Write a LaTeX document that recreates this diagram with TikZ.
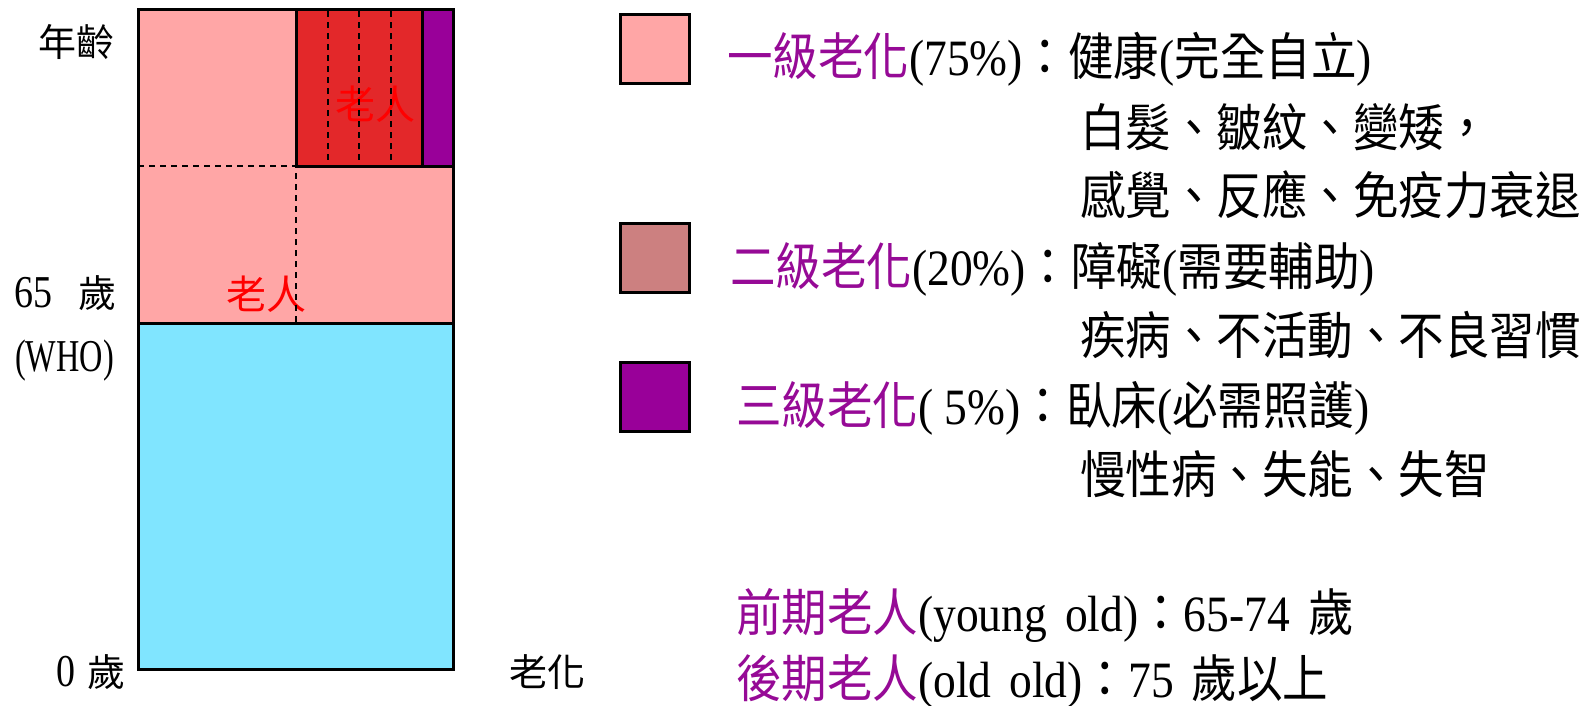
\documentclass[tikz,border=0pt]{standalone}
\usepackage{fontspec}
\setmainfont{Liberation Serif}
\newfontfamily\cjk{Noto Sans CJK TC}
\newcommand\zh[1]{{\cjk #1}}
\newcommand\tall[1]{\scalebox{1}[1.12]{#1}}
\newcommand\gap{\hspace{18pt}}
\definecolor{pinkf}{RGB}{255,166,166}
\definecolor{cyanf}{RGB}{128,229,255}
\definecolor{redf}{RGB}{227,40,42}
\definecolor{purpf}{RGB}{153,0,153}
\definecolor{rosef}{RGB}{204,128,128}
\definecolor{purptxt}{RGB}{150,10,150}
\begin{document}
\begin{tikzpicture}[x=1pt,y=-1pt,
  box/.style={draw=black,line width=3pt},
  dashline/.style={draw=black,line width=1.5pt,dash pattern=on 6pt off 5pt},
  lab/.style={anchor=base west,inner sep=0pt,font=\fontsize{38}{40}\selectfont},
  txt/.style={anchor=base west,inner sep=0pt,font=\fontsize{45.5}{50}\selectfont},
  redlab/.style={anchor=center,inner sep=0pt,text=red,font=\fontsize{40}{42}\selectfont\cjk}]
\useasboundingbox (0,0) rectangle (1595,705);
\fill[white] (0,0) rectangle (1595,705);
% main bar
\draw[box,fill=pinkf] (138,9) rectangle (453,323);
\draw[box,fill=cyanf] (138,323) rectangle (453,669);
\draw[box,fill=redf] (296,9) rectangle (422,166);
\draw[box,fill=purpf] (422,9) rectangle (453,166);
\node[redlab] (old1) at (375,104) {老人};
\node[redlab] (old2) at (266,294) {老人};
\draw[dashline] (138,166) -- (296,166) -- (296,323);
\draw[dashline] (328,11) -- (328,164);
\draw[dashline] (359,11) -- (359,164);
\draw[dashline] (391,11) -- (391,164);
% left labels
\node[lab] (age) at (38,56.4) {\zh{年齡}};
\node[lab] (y65) at (14,307.4) {\scalebox{1}[1.2]{65}\hspace{26pt}\zh{歲}};
\node[lab] (who) at (15,371.4) {\scalebox{0.85}[1.2]{(WHO)}};
\node[lab] (y0) at (56,686.4) {\scalebox{1}[1.2]{0}\hspace{12pt}\zh{歲}};
\node[lab] (aging) at (509,686.4) {\zh{老化}};
% legend boxes
\draw[box,fill=pinkf] (620,14) rectangle (689,83);
\draw[box,fill=rosef] (620,223) rectangle (689,292);
\draw[box,fill=purpf] (620,362) rectangle (689,431);
% legend text
\node[txt] (r1) at (727,75.4) {\tall{\textcolor{purptxt}{\zh{一級老化}}(75\%)\zh{：健康}(\zh{完全自立})}};
\node[txt] (r2) at (1080,146.4) {\tall{\zh{白髮、皺紋、變矮，}}};
\node[txt] (r3) at (1080,214.4) {\tall{\zh{感覺、反應、免疫力衰退}}};
\node[txt] (r4) at (730,285.4) {\tall{\textcolor{purptxt}{\zh{二級老化}}(20\%)\zh{：障礙}(\zh{需要輔助})}};
\node[txt] (r5) at (1080,354.4) {\tall{\zh{疾病、不活動、不良習慣}}};
\node[txt] (r6) at (736,424.4) {\tall{\textcolor{purptxt}{\zh{三級老化}}( 5\%)\zh{：臥床}(\zh{必需照護})}};
\node[txt] (r7) at (1080,493.4) {\tall{\zh{慢性病、失能、失智}}};
\node[txt] (r8) at (736,631) {\tall{\textcolor{purptxt}{\zh{前期老人}}(young\gap old)\zh{：}65-74\gap\zh{歲}}};
\node[txt] (r9) at (736,697) {\tall{\textcolor{purptxt}{\zh{後期老人}}(old\gap old)\zh{：}75\gap\zh{歲以上}}};
\end{tikzpicture}
\end{document}
